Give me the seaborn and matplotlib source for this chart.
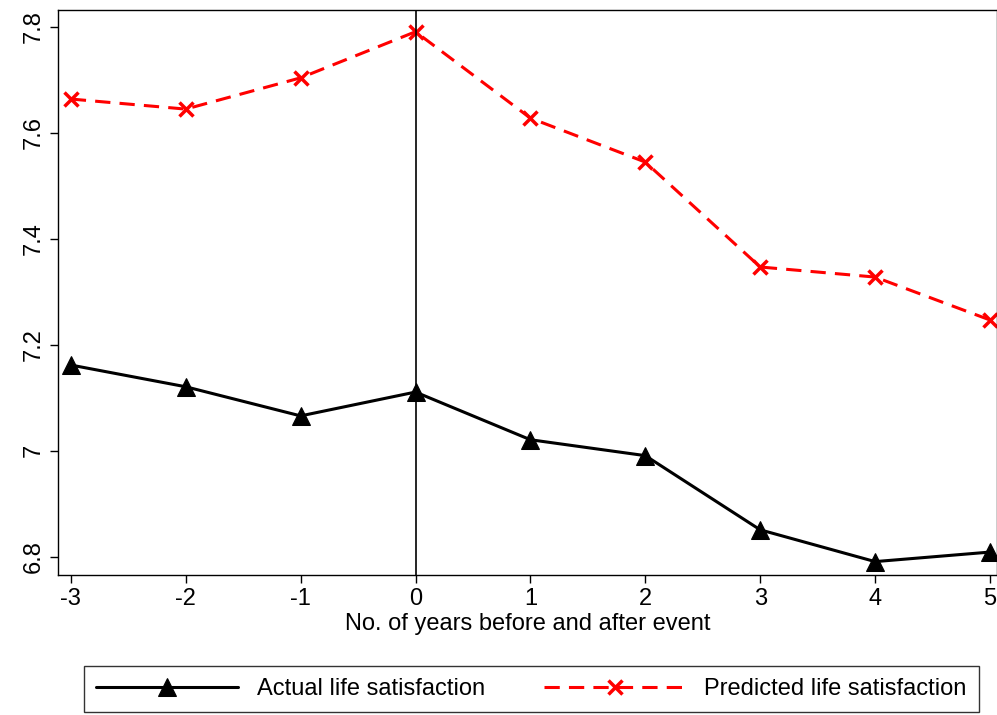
import matplotlib
matplotlib.use("Agg")
import matplotlib.pyplot as plt
import pandas as pd
import seaborn as sns

years = [-3, -2, -1, 0, 1, 2, 3, 4, 5]
actual = [7.162, 7.121, 7.066, 7.111, 7.021, 6.991, 6.851, 6.791, 6.809]
predicted = [7.664, 7.645, 7.704, 7.791, 7.628, 7.545, 7.347, 7.328, 7.247]

sns.set_theme(style="white")
plt.rcParams["font.family"] = ["Liberation Sans", "DejaVu Sans"]
plt.rcParams["text.color"] = "black"
plt.rcParams["axes.labelcolor"] = "black"
plt.rcParams["xtick.color"] = "black"
plt.rcParams["ytick.color"] = "black"

df = pd.DataFrame({"year": years, "actual": actual, "predicted": predicted})

fig = plt.figure(figsize=(9.97, 7.15), dpi=100)
ax = fig.add_axes([0.058, 0.196, 0.942, 0.790])

sns.lineplot(data=df, x="year", y="actual", ax=ax, color="black", lw=2.2,
             marker="^", markersize=13, markeredgecolor="black",
             label="Actual life satisfaction")
sns.lineplot(data=df, x="year", y="predicted", ax=ax, color="#ff0000", lw=2.2,
             linestyle=(0, (5, 3)), marker="x", markersize=10, markeredgewidth=2.5,
             markeredgecolor="#ff0000", label="Predicted life satisfaction")
ax.axvline(0, color="black", lw=1.2)

ax.set_xlim(-3.113, 5.061)
ax.set_ylim(6.766, 7.832)
ax.set_xticks(years)
ax.set_xticklabels([str(y) for y in years])
ax.set_yticks([6.8, 7.0, 7.2, 7.4, 7.6, 7.8])
ax.set_yticklabels(["6.8", "7", "7.2", "7.4", "7.6", "7.8"], rotation=90, va="center")
ax.tick_params(axis="both", labelsize=17, length=6, width=1, direction="out",
               bottom=True, left=True, color="black")
ax.set_xlabel("No. of years before and after event", fontsize=17, labelpad=2)
ax.set_ylabel("")
for s in ax.spines.values():
    s.set_color("black")
    s.set_linewidth(1)

handles, labels = ax.get_legend_handles_labels()
ax.get_legend().remove()
leg = fig.legend(handles, labels, loc="lower center", ncol=2, fontsize=17,
                 bbox_to_anchor=(0.533, -0.012), frameon=True, fancybox=False,
                 edgecolor="black", handlelength=6, columnspacing=2.5,
                 borderpad=0.5)
leg.get_frame().set_linewidth(1)

fig.savefig("out.png", dpi=100)
